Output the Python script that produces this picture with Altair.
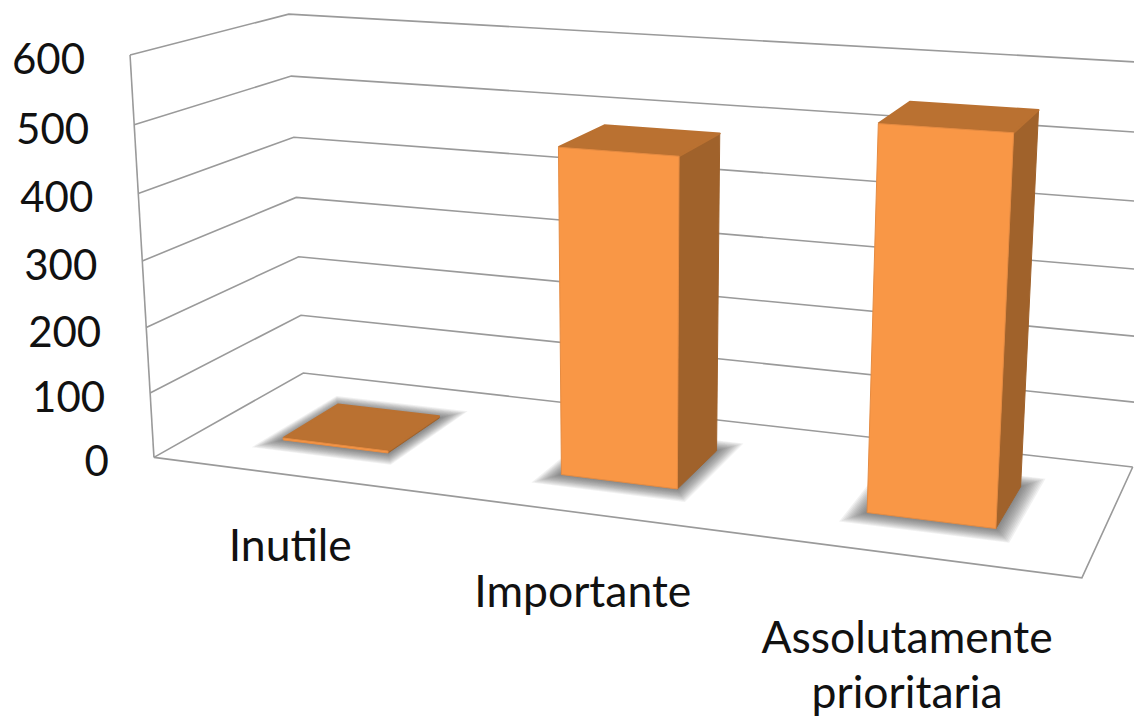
import numpy as np
import pandas as pd
import altair as alt

categories = ["Inutile", "Importante", "Assolutamente"]
second_line = ["", "", "prioritaria"]
values = [3, 484, 548]
ticks = [0, 100, 200, 300, 400, 500, 600]

# camera calibration: (category position, value, depth) -> picture position
CAL_WORLD = [(0,0,0),(0,600,0),(0,500,0),(0,400,0),(0,300,0),(0,200,0),(0,100,0),(0,0,1),(0,600,1),(0,500,1),(0,400,1),(0,300,1),(0,200,1),(0,100,1),(3,0,0),(3,0,1),(3,100,1),(3,200,1)]
CAL_IMAGE = [(153,458),(129,56),(134,125),(139,193),(143,260),(147,327),(150,393),(302,373),(288,14),(291,76),(294,137),(297,197),(300,257),(301,316),(1082,578),(1132,467),(1137,402),(1141,337)]

def fit(world, image):
    w = np.ones(len(world))
    for it in range(8):
        A, b = [], []
        for k, ((X, Y, Z), (u, v)) in enumerate(zip(world, image)):
            Y = Y / 100
            A.append(np.array([X, Y, Z, 1, 0, 0, 0, 0, -u*X, -u*Y, -u*Z]) * w[k]); b.append(u * w[k])
            A.append(np.array([0, 0, 0, 0, X, Y, Z, 1, -v*X, -v*Y, -v*Z]) * w[k]); b.append(v * w[k])
        p = np.linalg.lstsq(np.array(A, float), np.array(b, float), rcond=None)[0]
        P = np.append(p, 1).reshape(3, 4)
        w = np.array([1 / (P[2] @ np.array([X, Y / 100, Z, 1.0])) for X, Y, Z in world])
    return P

P = fit(CAL_WORLD, CAL_IMAGE)

def proj(X, Y, Z):
    h = P @ np.array([X, Y / 100, Z, 1.0])
    return h[0] / h[2], h[1] / h[2]

XS = alt.Scale(domain=[8, 1134], range=[0, 1126])
YS = alt.Scale(domain=[8, 716], range=[0, 708])

def poly(points, closed=True, **mark):
    pts = [proj(*p) for p in points]
    if closed:
        pts.append(pts[0])
    df = pd.DataFrame({"x": [p[0] for p in pts], "y": [p[1] for p in pts], "i": range(len(pts))})
    return alt.Chart(df).mark_line(clip=True, **mark).encode(
        x=alt.X("x:Q", scale=XS, axis=None),
        y=alt.Y("y:Q", scale=YS, axis=None),
        order="i:Q",
    )

layers = []
GRID = "#9a9a9a"
for t in ticks:
    layers.append(poly([(0, t, 0), (0, t, 1), (3.2 if t > 100 else 3, t, 1)], closed=False, stroke=GRID, strokeWidth=1.6))
layers.append(poly([(0, 0, 0), (0, 600, 0)], closed=False, stroke=GRID, strokeWidth=1.6))
layers.append(poly([(0, 0, 0), (3, 0, 0), (3, 0, 1)], closed=False, stroke=GRID, strokeWidth=1.6))

X_LEFT = [0.305, 1.30, 2.30]
X_RIGHT = [0.69, 1.69, 2.695]
Z0, Z1 = 0.30, 0.69

# soft shadows
for x0, x1 in zip(X_LEFT, X_RIGHT):
    for s in np.arange(0.06, 0.0, -0.005):
        sx, sz = s, s * 1.7
        layers.append(poly([(x0 - sx, 0, Z0 - sz), (x1 + sx, 0, Z0 - sz), (x1 + sx, 0, Z1 + sz), (x0 - sx, 0, Z1 + sz)],
                           fill="#444444", fillOpacity=0.075, stroke=None, strokeWidth=0))

FRONT, TOP, SIDE, RIM = "#F99746", "#BA7131", "#A0622B", "#E58B42"
for x0, x1, v in zip(X_LEFT, X_RIGHT, values):
    layers.append(poly([(x1, 0, Z0), (x1, 0, Z1), (x1, v, Z1), (x1, v, Z0)], fill=SIDE, stroke=SIDE, strokeWidth=1, strokeJoin="round"))
    layers.append(poly([(x0, v, Z0), (x1, v, Z0), (x1, v, Z1), (x0, v, Z1)], fill=TOP, stroke=TOP, strokeWidth=2, strokeJoin="round"))
    layers.append(poly([(x0, 0, Z0), (x1, 0, Z0), (x1, v, Z0), (x0, v, Z0)], fill=FRONT, stroke=RIM, strokeWidth=1, strokeJoin="round"))

FONT = "Lato"
tick_xy = [proj(0, t, 0) for t in ticks]
tick_df = pd.DataFrame({"x": [p[0] for p in tick_xy], "y": [p[1] for p in tick_xy], "t": [str(t) for t in ticks]})
layers.append(alt.Chart(tick_df).mark_text(font=FONT, fontSize=42, align="right", baseline="middle", dx=-45, dy=6, color="#111111").encode(
    x=alt.X("x:Q", scale=XS, axis=None), y=alt.Y("y:Q", scale=YS, axis=None), text="t:N"))

LABEL_X = [0.485, 1.49, 2.505]
LABEL_VALUE = [-114, -120, -121]
lab_xy = [proj(a, b, 0) for a, b in zip(LABEL_X, LABEL_VALUE)]
lab_df = pd.DataFrame({"x": [p[0] for p in lab_xy], "y": [p[1] for p in lab_xy], "t": categories, "t2": second_line})
layers.append(alt.Chart(lab_df).mark_text(font=FONT, fontSize=44.5, align="center", baseline="middle", color="#111111").encode(
    x=alt.X("x:Q", scale=XS, axis=None), y=alt.Y("y:Q", scale=YS, axis=None), text="t:N"))
layers.append(alt.Chart(lab_df).mark_text(font=FONT, fontSize=44.5, align="center", baseline="middle", dy=55, color="#111111").encode(
    x=alt.X("x:Q", scale=XS, axis=None), y=alt.Y("y:Q", scale=YS, axis=None), text="t2:N"))

chart = alt.layer(*layers).properties(width=1126, height=708, padding=0, background="white").configure_view(stroke=None)
chart.save("out.html", embed_options={"renderer": "svg", "actions": False})
